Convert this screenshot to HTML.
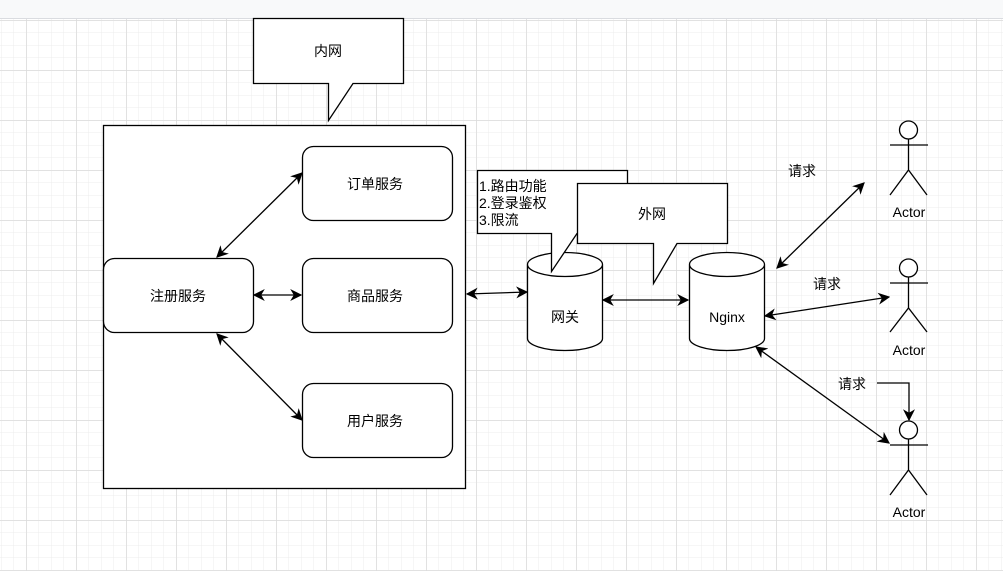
<!DOCTYPE html>
<html><head><meta charset="utf-8"><style>
body{margin:0;width:1003px;height:571px;overflow:hidden;background:#fff;}
svg{display:block;}
text{font-family:"Liberation Sans","Noto Sans CJK SC",sans-serif;font-size:14px;fill:#000;}
</style></head><body>
<svg width="1003" height="571" viewBox="0 0 1003 571">
<defs>
<pattern id="minor" width="12.5" height="12.5" patternUnits="userSpaceOnUse" x="1.5" y="8">
<path d="M12.5 0V12.5M0 12.5H12.5" stroke="#ececec" stroke-width="1" fill="none"/></pattern>
<pattern id="major" width="50" height="50" patternUnits="userSpaceOnUse" x="26.5" y="20.5">
<path d="M0 0V50M0 0H50" stroke="#d6d6d6" stroke-width="1" fill="none"/></pattern>
<marker id="a" viewBox="0 0 10 10" refX="9" refY="5" markerWidth="12" markerHeight="12" orient="auto-start-reverse" markerUnits="userSpaceOnUse">
<path d="M0 0L10 5L0 10L3 5Z" fill="#000"/></marker>
</defs>
<rect x="0" y="18" width="1003" height="553" fill="url(#minor)"/>
<rect x="0" y="18" width="1003" height="553" fill="url(#major)"/>
<rect x="0" y="0" width="1003" height="18" fill="#f8f9fa"/>
<line x1="0" y1="18.5" x2="1003" y2="18.5" stroke="#dadce0"/>
<g stroke="#000" stroke-width="1.3" fill="#fff">
<path d="M253.5 18.5H403.5V83.5H353L328.5 120.5V83.5H253.5Z"/>
<rect x="103.5" y="125.5" width="362" height="363"/>
<rect x="302.5" y="146.5" width="150" height="74" rx="11"/>
<rect x="302.5" y="258.5" width="150" height="74" rx="11"/>
<rect x="302.5" y="383.5" width="150" height="74" rx="11"/>
<rect x="103.5" y="258.5" width="150" height="74" rx="11"/>
<path d="M527.5 264.5V338.5A37.5 12 0 0 0 602.5 338.5V264.5A37.5 12 0 0 0 527.5 264.5A37.5 12 0 0 0 602.5 264.5"/>
<path d="M689.5 264.5V338.5A37.5 12 0 0 0 764.5 338.5V264.5A37.5 12 0 0 0 689.5 264.5A37.5 12 0 0 0 764.5 264.5"/>
<path d="M477.5 170.5H627.5V233.5H577L551.5 271.5V233.5H477.5Z"/>
<path d="M577.5 183.5H727.5V243.5H677L653.5 283.5V243.5H577.5Z"/>
</g>
<g stroke="#000" stroke-width="1.3" fill="none" marker-start="url(#a)" marker-end="url(#a)">
<line x1="217" y1="257" x2="302" y2="173"/>
<line x1="254" y1="295" x2="301" y2="295"/>
<line x1="217" y1="334" x2="302" y2="420"/>
<line x1="467" y1="294" x2="527" y2="292"/>
<line x1="603" y1="300" x2="688" y2="300"/>
<line x1="777" y1="268" x2="864" y2="183"/>
<line x1="765" y1="316" x2="889" y2="297"/>
<line x1="756" y1="347" x2="889" y2="443"/>
</g>
<path d="M877 383H909V420" stroke="#000" stroke-width="1.3" fill="none" marker-end="url(#a)"/>
<g stroke="#000" stroke-width="1.3" fill="#fff">
<circle cx="908.5" cy="130" r="9"/>
<path d="M908.5 139V170M890 145H928M890 195L908.5 170L927 195" fill="none"/>
<circle cx="908.5" cy="268" r="9"/>
<path d="M908.5 277V308M890 283H928M890 332L908.5 308L927 332" fill="none"/>
<circle cx="908.5" cy="430" r="9"/>
<path d="M908.5 439V470M890 445H928M890 495L908.5 470L927 495" fill="none"/>
</g>
<g text-anchor="middle">
<text x="328" y="56">内网</text>
<text x="375" y="189">订单服务</text>
<text x="375" y="301">商品服务</text>
<text x="375" y="426">用户服务</text>
<text x="178" y="301">注册服务</text>
<text x="565" y="322">网关</text>
<text x="727" y="322" font-size="15">Nginx</text>
<text x="652" y="219">外网</text>
<text x="909" y="217">Actor</text>
<text x="909" y="355">Actor</text>
<text x="909" y="517">Actor</text>
<text x="802" y="176">请求</text>
<text x="827" y="289">请求</text>
<text x="852" y="389">请求</text>
</g>
<text x="479" y="191">1.路由功能</text>
<text x="479" y="208">2.登录鉴权</text>
<text x="479" y="225">3.限流</text>
</svg>
</body></html>
